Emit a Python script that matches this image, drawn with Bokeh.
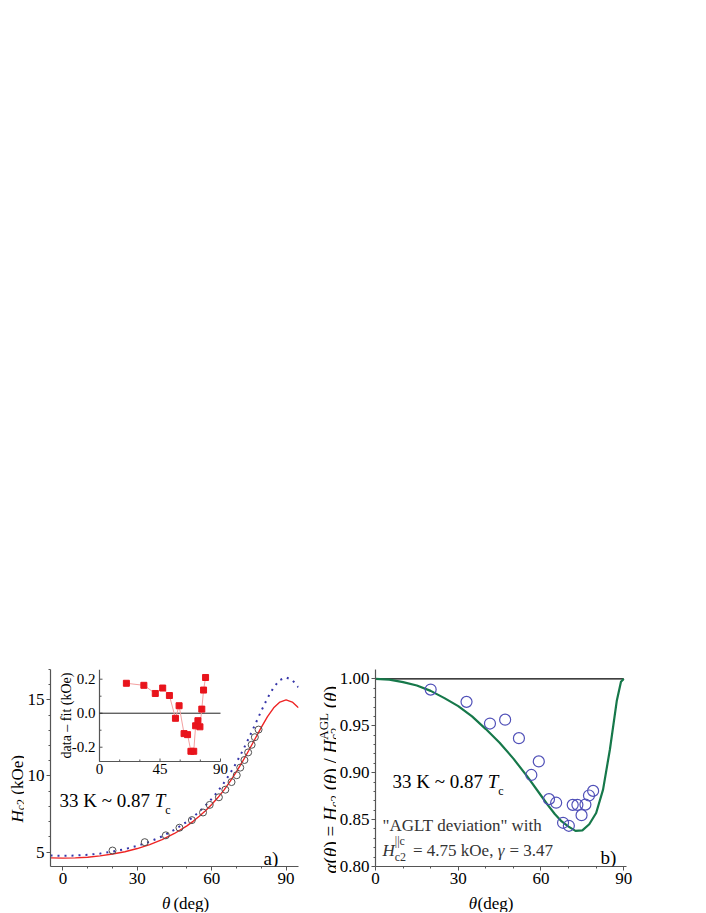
import math
from bokeh.plotting import figure
from bokeh.models import Range1d, FixedTicker, Label, PrintfTickFormatter
from bokeh.layouts import row, column
from bokeh.embed import file_html
from bokeh.resources import INLINE
from bokeh.core.properties import value

# ---------------- data ----------------
theta_meas = [20.0, 33.0, 41.5, 47.0, 52.0, 56.5, 59.2, 62.9, 65.5, 68.0, 70.1, 71.5, 73.2, 74.7, 76.1, 77.4, 78.9]
hc2_meas = [5.10, 5.65, 6.10, 6.60, 7.10, 7.60, 8.10, 8.60, 9.10, 9.60, 10.05, 10.55, 11.05, 11.55, 12.05, 12.55, 13.05]
resid_meas = [0.176, 0.164, 0.116, 0.148, 0.104, -0.030, 0.044, -0.120, -0.126, -0.224, -0.224, -0.074, -0.044, -0.080, 0.024, 0.136, 0.210]
alpha_meas = [0.9886, 0.9755, 0.9524, 0.9565, 0.9368, 0.8976, 0.9120, 0.8718, 0.8680, 0.8466, 0.8434, 0.8657, 0.8657, 0.8547, 0.8660, 0.8757, 0.8806]

theta_curve = [-5, 0, 5, 10, 15, 20, 25, 30, 35, 40, 45, 50, 52.5, 55, 57.5, 60, 62.5, 65, 67.5, 70,
               72.5, 75, 77.5, 80, 82.5, 85, 87.5, 90, 92.5, 95]
hc2_agl = [4.77, 4.75, 4.77, 4.82, 4.90, 5.03, 5.19, 5.41, 5.68, 6.03, 6.46, 6.99, 7.31, 7.66, 8.06, 8.50,
           9.00, 9.56, 10.19, 10.89, 11.66, 12.50, 13.38, 14.28, 15.12, 15.83, 16.31, 16.48, 16.31, 15.83]
hc2_fit = [4.62, 4.60, 4.62, 4.66, 4.75, 4.87, 5.02, 5.23, 5.49, 5.82, 6.22, 6.72, 7.02, 7.35, 7.71, 8.13,
           8.58, 9.09, 9.66, 10.29, 10.97, 11.69, 12.45, 13.20, 13.90, 14.48, 14.86, 15.00, 14.86, 14.48]

theta_alpha = [0, 5, 10, 15, 20, 25, 30, 35, 40, 45, 50, 55, 60, 62.5, 65, 67.5, 70, 72.5, 75, 77.5,
               80, 82.5, 85, 87.5, 89, 90]
alpha_fit = [1.0, 0.9992, 0.9965, 0.9930, 0.9872, 0.9795, 0.9710, 0.9600, 0.9465, 0.9320, 0.9150, 0.8960,
             0.8757, 0.8655, 0.8560, 0.8480, 0.8425, 0.8380, 0.8385, 0.8450, 0.8570, 0.8820, 0.9250,
             0.9770, 0.9970, 1.0]

ref_theta = [0, 90]
ref_alpha = [1.0, 1.0]
zero_theta = [0, 90]
zero_resid = [0.0, 0.0]

a_xticks = [0, 30, 60, 90]
a_xminor = [10, 20, 40, 50, 70, 80]
a_yticks = [5, 10, 15]
a_yminor = [6, 7, 8, 9, 11, 12, 13, 14, 16, 17]
b_xticks = [0, 30, 60, 90]
b_xminor = [10, 20, 40, 50, 70, 80]
b_yticks = [0.80, 0.85, 0.90, 0.95, 1.00]
b_yminor = [0.81, 0.82, 0.83, 0.84, 0.86, 0.87, 0.88, 0.89, 0.91, 0.92, 0.93, 0.94, 0.96, 0.97, 0.98, 0.99]
inset_xticks = [0, 45, 90]
inset_xtick_labels = ["0", "45", "90"]
inset_xminor = [15, 30, 60, 75]
inset_yticks = [-0.2, 0.0, 0.2]
inset_ytick_labels = ["-0.2", "0.0", "0.2"]
inset_yminor = [-0.1, 0.1]

# ---------------- geometry (page pixels, origin at top-left) ----------------
FONT = "Liberation Serif, Times New Roman, serif"
TOTAL_H = 912
HA = 891                       # height of the two plot figures
LA = (0, 24)                   # y-label strip for panel a
PA = (24, 300)                 # figure a
LB = (300, 336)                # y-label strip for panel b
PB = (336, 702)                # figure b
A_FR = dict(L=50, R=298, T=669, B=866)
B_FR = dict(L=375, R=626, T=669, B=866)
A_XR, A_YR = (-5, 95), (4.05, 17.0)
B_XR, B_YR = (0, 91), (0.80, 1.01)
INSET_BOX = dict(L=99, R=220, T=669, B=761)
INSET_XLIM, INSET_YLIM = (0, 90), (-0.284, 0.257)


def conv(fr, xr, yr):
    fx = lambda px: xr[0] + (px - fr["L"]) * (xr[1] - xr[0]) / (fr["R"] - fr["L"])
    fy = lambda py: yr[0] + (fr["B"] - py) * (yr[1] - yr[0]) / (fr["B"] - fr["T"])
    return fx, fy


ident = lambda v: v

REG = {' ': .25, '(': .333, ')': .333, '=': .564, '/': .278, '~': .541, '.': .25, ',': .25, '-': .333,
       '–': .5, '"': .408, 'A': .722, 'G': .722, 'L': .611, 'T': .611, 'K': .722, 'O': .722, 'H': .722,
       'a': .444, 'b': .5, 'c': .444, 'd': .5, 'e': .444, 'f': .333, 'g': .5, 'h': .5, 'i': .278,
       'k': .5, 'n': .5, 'o': .5, 't': .278, 'v': .5, 'w': .722, '|': .2}
ITAL = {'H': .722, 'T': .556, 'θ': .5, 'α': .53, 'γ': .44}


def width(s, size, italic):
    tbl = ITAL if italic else REG
    return sum(tbl.get(ch, .5) for ch in s) * size


def runs_out(p, runs, x0, y0, fx, fy, rotated=False, color="black"):
    """runs: (text, size, italic, shift[, advance[, absolute start]])"""
    pos = y0 if rotated else x0
    step = -1 if rotated else 1
    for r in runs:
        text, size, italic, shift = r[:4]
        adv = r[4] if len(r) > 4 else True
        if len(r) > 5 and r[5] is not None:
            pos = r[5]
        lead = len(text) - len(text.lstrip(' '))
        off = width(text[:lead], size, italic) * step
        shown = text.strip(' ')
        if rotated:
            px, py, ang = x0 + shift, pos + off, math.pi / 2
        else:
            px, py, ang = pos + off, y0 + shift, 0.0
        p.add_layout(Label(x=fx(px), y=fy(py), text=shown, text_font=FONT,
                           text_font_size=f"{size}px",
                           text_font_style="italic" if italic else "normal",
                           text_align="left", text_baseline="alphabetic",
                           angle=ang, text_color=color))
        if adv:
            pos += step * width(text, size, italic)


def style_axes(p, xt, xm, yt, ym):
    p.xaxis.ticker = FixedTicker(ticks=xt, minor_ticks=xm)
    p.yaxis.ticker = FixedTicker(ticks=yt, minor_ticks=ym)
    for ax in (p.xaxis[0], p.yaxis[0]):
        ax.axis_line_color = "#555555"
        ax.axis_line_width = 1.2
        ax.major_tick_line_color = "#555555"
        ax.minor_tick_line_color = "#555555"
        ax.major_tick_in = 0
        ax.major_tick_out = 4
        ax.minor_tick_in = 0
        ax.minor_tick_out = 2
        ax.major_label_text_font = FONT
        ax.major_label_text_font_size = "17px"
        ax.major_label_text_color = "black"
        ax.major_label_standoff = 2
    p.grid.visible = False
    p.outline_line_color = None


def plot_fig(span, fr, xr, yr):
    return figure(width=span[1] - span[0], height=HA, x_range=Range1d(*xr), y_range=Range1d(*yr),
                  output_backend="svg", toolbar_location=None, title=None,
                  min_border_left=fr["L"] - span[0], min_border_right=span[1] - fr["R"],
                  min_border_top=fr["T"], min_border_bottom=HA - fr["B"])


def strip_fig(xspan, yspan):
    f = figure(width=xspan[1] - xspan[0], height=yspan[1] - yspan[0],
               x_range=Range1d(*xspan), y_range=Range1d(yspan[1], yspan[0]),
               x_axis_type=None, y_axis_type=None, output_backend="svg",
               toolbar_location=None, title=None, min_border=0)
    f.outline_line_color = None
    return f


# ---------------- panel a ----------------
pa = plot_fig(PA, A_FR, A_XR, A_YR)
style_axes(pa, a_xticks, a_xminor, a_yticks, a_yminor)
ax_, ay_ = conv(A_FR, A_XR, A_YR)

pa.line(theta_curve, hc2_agl, line_color="#3535a8", line_width=2, line_dash="2 5")
pa.line(theta_curve, hc2_fit, line_color="#ee2424", line_width=1.4)
pa.scatter(theta_meas, hc2_meas, marker="circle", size=7, fill_color=None,
           line_color="#505050", line_width=1)

# inset: extra ranges mapped onto its box inside the frame
sx = (INSET_XLIM[1] - INSET_XLIM[0]) / (INSET_BOX["R"] - INSET_BOX["L"])
sy = (INSET_YLIM[1] - INSET_YLIM[0]) / (INSET_BOX["B"] - INSET_BOX["T"])
pa.extra_x_ranges = {"ix": Range1d(INSET_XLIM[0] - (INSET_BOX["L"] - A_FR["L"]) * sx,
                                   INSET_XLIM[1] + (A_FR["R"] - INSET_BOX["R"]) * sx)}
pa.extra_y_ranges = {"iy": Range1d(INSET_YLIM[0] - (A_FR["B"] - INSET_BOX["B"]) * sy,
                                   INSET_YLIM[1] + (INSET_BOX["T"] - A_FR["T"]) * sy)}
IR = dict(x_range_name="ix", y_range_name="iy")
AX_COL = "#555555"
pa.segment(x0=[INSET_XLIM[0], INSET_XLIM[0]], y0=[INSET_YLIM[0], INSET_YLIM[0]],
           x1=[INSET_XLIM[0], INSET_XLIM[1]], y1=[INSET_YLIM[1], INSET_YLIM[0]],
           line_color=AX_COL, line_width=1.2, **IR)
pa.segment(x0=[INSET_XLIM[0]] * len(inset_yticks), y0=inset_yticks,
           x1=[INSET_XLIM[0] + 3 * sx] * len(inset_yticks), y1=inset_yticks,
           line_color=AX_COL, line_width=1, **IR)
pa.segment(x0=[INSET_XLIM[0]] * len(inset_yminor), y0=inset_yminor,
           x1=[INSET_XLIM[0] + 2 * sx] * len(inset_yminor), y1=inset_yminor,
           line_color=AX_COL, line_width=1, **IR)
pa.segment(x0=inset_xticks, y0=[INSET_YLIM[0]] * len(inset_xticks),
           x1=inset_xticks, y1=[INSET_YLIM[0] + 3 * sy] * len(inset_xticks),
           line_color=AX_COL, line_width=1, **IR)
pa.segment(x0=inset_xminor, y0=[INSET_YLIM[0]] * len(inset_xminor),
           x1=inset_xminor, y1=[INSET_YLIM[0] + 2 * sy] * len(inset_xminor),
           line_color=AX_COL, line_width=1, **IR)
pa.text(x=[INSET_XLIM[0] - 4 * sx] * len(inset_yticks), y=inset_yticks, text=inset_ytick_labels,
        text_font=value(FONT), text_font_size="15px", text_align="right",
        text_baseline="middle", text_color="black", **IR)
pa.text(x=inset_xticks, y=[INSET_YLIM[0] - 2 * sy] * len(inset_xticks), text=inset_xtick_labels,
        text_font=value(FONT), text_font_size="15px", text_align="center",
        text_baseline="top", text_color="black", **IR)
pa.line(zero_theta, zero_resid, line_color="#222222", line_width=1, **IR)
pa.line(theta_meas, resid_meas, line_color="#f4a0a0", line_width=1, **IR)
pa.scatter(theta_meas, resid_meas, marker="square", size=6, fill_color="#e8141c",
           line_color="#e8141c", **IR)
pa.add_layout(Label(x=INSET_XLIM[0] - 33 * sx, y=(INSET_YLIM[0] + INSET_YLIM[1]) / 2,
                    text="data – fit (kOe)", text_font=FONT, text_font_size="14px",
                    text_align="center", text_baseline="middle", angle=math.pi / 2,
                    text_color="black", x_range_name="ix", y_range_name="iy"))

runs_out(pa, [("33 K ~ 0.87 ", 19, False, 0), ("T", 19, True, 0), ("c", 12, False, 9)],
         59, 800, ax_, ay_)
runs_out(pa, [("a)", 19, False, 0)], 263, 858, ax_, ay_)

la = strip_fig(LA, (0, TOTAL_H))
runs_out(la, [("H", 17, True, 0), ("c2", 12, False, 3), (" (kOe)", 17, False, 0)],
         17, 822, ident, ident, rotated=True)
xa = strip_fig(PA, (HA, TOTAL_H))
runs_out(xa, [("θ", 17, True, 0), (" (deg)", 17, False, 0)], 148, 903, ident, ident)

# ---------------- panel b ----------------
pb = plot_fig(PB, B_FR, B_XR, B_YR)
style_axes(pb, b_xticks, b_xminor, b_yticks, b_yminor)
pb.yaxis.formatter = PrintfTickFormatter(format="%.2f")
bx_, by_ = conv(B_FR, B_XR, B_YR)

pb.line(ref_theta, ref_alpha, line_color="black", line_width=1.2)
pb.line(theta_alpha, alpha_fit, line_color="#16784a", line_width=2.2)
pb.scatter(theta_meas, alpha_meas, marker="circle", size=11, fill_color=None,
           line_color="#5050b8", line_width=1.2)

runs_out(pb, [("33 K ~ 0.87 ", 19, False, 0), ("T", 19, True, 0), ("c", 12, False, 9)],
         392, 781, bx_, by_)
runs_out(pb, [('"AGLT deviation" with', 17, False, 0)], 382, 825, bx_, by_, color="#333333")
runs_out(pb, [("H", 17, True, 0), ("||c", 12, False, -10, False), ("c2", 12, False, 6),
              ("= 4.75 kOe, ", 17, False, 0, True, 412.5), ("γ", 17, True, 0),
              (" = 3.47", 17, False, 0)],
         382, 850, bx_, by_, color="#333333")
runs_out(pb, [("b)", 19, False, 0)], 600, 857, bx_, by_)

lb = strip_fig(LB, (0, TOTAL_H))
runs_out(lb, [("α", 19, True, 0), ("(", 19, False, 0), ("θ", 19, True, 0), (")", 19, False, 0),
              (" = ", 19, False, 0), ("H", 19, True, 0), ("c2", 13, False, 4),
              (" (", 19, False, 0), ("θ", 19, True, 0), (")", 19, False, 0), (" / ", 19, False, 0),
              ("H", 19, True, 0), ("c2", 13, False, 4, False), ("AGL", 13, False, -7),
              (" (", 19, False, 0), ("θ", 19, True, 0), (")", 19, False, 0)],
         330, 873, ident, ident, rotated=True)
xb = strip_fig(PB, (HA, TOTAL_H))
runs_out(xb, [("θ", 17, True, 0), (" (deg)", 17, False, 0)], 472, 903, ident, ident)

layout = row(la, column(pa, xa), lb, column(pb, xb))
open("out.html", "w").write(file_html(layout, INLINE))
